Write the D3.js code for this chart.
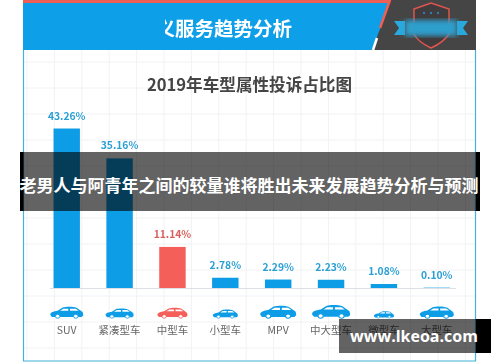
<!DOCTYPE html>
<html>

<head>
    <meta charset="utf-8" />
    <title>2019年车型属性投诉占比图</title>
    <script src="https://d3js.org/d3.v7.min.js"></script>
    <style>
        html,
        body {
            margin: 0;
            padding: 0;
            background-color: white;
            overflow: hidden;
        }

        text {
            font-family: 'Noto Sans CJK SC', 'Noto Sans', sans-serif;
        }
    </style>
</head>

<body>
    <div id="chart"></div>

    <script>
        var categories = ["SUV", "紧凑型车", "中型车", "小型车", "MPV", "中大型车", "微型车", "大型车"];
        var shares = [43.26, 35.16, 11.14, 2.78, 2.29, 2.23, 1.08, 0.10];
        var shareLabels = ["43.26%", "35.16%", "11.14%", "2.78%", "2.29%", "2.23%", "1.08%", "0.10%"];
        var carWidths = [33, 28, 30, 25, 36, 38, 20, 34];

        var chartTitle = "2019年车型属性投诉占比图";
        var headerTitle = "义服务趋势分析";
        var bannerTitle = "老男人与阿青年之间的较量谁将胜出未来发展趋势分析与预测";
        var siteName = "www.lkeoa.com";

        var blue = "#0f9de6", red = "#f55f5a";
        var width = 500, height = 362;

        var svg = d3.select("#chart")
            .append("svg")
            .attr("width", width)
            .attr("height", height)
            .style("display", "block");

        var defs = svg.append("defs");
        defs.append("filter").attr("id", "soft").append("feGaussianBlur").attr("stdDeviation", 0.35);
        defs.append("filter").attr("id", "smear").append("feGaussianBlur").attr("stdDeviation", 2.5);

        // everything under the two grey banners
        var page = svg.append("g").attr("filter", "url(#soft)");

        // faint grid paper
        var grid = page.append("g").attr("stroke", "#f1f2f4").attr("stroke-width", 1);
        d3.range(27, 476, 27.4).forEach(function (x) {
            grid.append("line").attr("x1", x).attr("x2", x).attr("y1", 50).attr("y2", 361);
        });
        d3.range(62, 360, 26).forEach(function (y) {
            grid.append("line").attr("x1", 24).attr("x2", 475).attr("y1", y).attr("y2", y);
        });

        // frame
        page.append("path")
            .attr("d", "M23.5,50V361H475.5V50")
            .attr("fill", "none")
            .attr("stroke", "#45b2d8")
            .attr("stroke-width", 1.2);

        // header strip
        page.append("rect").attr("x", 23).attr("y", 0).attr("width", 453).attr("height", 50).attr("fill", "#0f9fe8");
        page.append("rect").attr("x", 23).attr("y", 0).attr("width", 368).attr("height", 3).attr("fill", "#ee5f55");
        page.append("path").attr("d", "M391,0H476V50H372Z").attr("fill", "#454545");
        page.append("path").attr("d", "M390,0L380,28").attr("stroke", "#ee5f55").attr("stroke-width", 2.5);
        page.append("path").attr("d", "M377,38L373,50").attr("stroke", "#fff").attr("stroke-width", 2.5);

        // badge
        page.append("path")
            .attr("d", "M414,9L431,3L449,9V34Q444,42 431,48Q418,42 414,34Z")
            .attr("fill", "#3f3a3c")
            .attr("stroke", "#e0554f")
            .attr("stroke-width", 1.5);
        page.append("path")
            .attr("d", "M394,21H405V35H394L399,28ZM468,21H457V35H468L463,28Z")
            .attr("fill", "#29a9df");
        page.append("rect")
            .attr("x", 405).attr("y", 20).attr("width", 52).attr("height", 16)
            .attr("fill", "#2f9ecb")
            .attr("filter", "url(#smear)");
        page.selectAll(".star").data([424, 431, 438]).enter()
            .append("circle")
            .attr("cx", function (d) { return d; })
            .attr("cy", 13)
            .attr("r", 1.2)
            .attr("fill", "#2f7fb0");

        page.append("text")
            .attr("x", 292)
            .attr("y", 36)
            .attr("text-anchor", "end")
            .attr("font-size", 19.5)
            .attr("font-weight", 700)
            .attr("fill", "#fff")
            .text(headerTitle);
        // the blurred-out part of the header
        page.append("rect")
            .attr("x", 100).attr("y", 5).attr("width", 65).attr("height", 44)
            .attr("fill", "#0f9fe8");

        page.append("text")
            .attr("x", 249.5)
            .attr("y", 91)
            .attr("text-anchor", "middle")
            .attr("font-size", 16.6)
            .attr("font-weight", 700)
            .attr("fill", "#444")
            .text(chartTitle);

        var x = d3.scaleBand()
            .domain(categories)
            .range([53.5, 450])
            .paddingInner(0.5)
            .paddingOuter(0);

        var y = d3.scaleLinear()
            .domain([0, 43.26])
            .range([288, 128.5]);

        function colorOf(i) {
            return i == 2 ? red : blue;
        }

        page.append("line")
            .attr("x1", 50).attr("x2", 456)
            .attr("y1", 288.5).attr("y2", 288.5)
            .attr("stroke", "#dcdfe3");

        page.selectAll(".bar").data(shares).enter()
            .append("rect")
            .attr("x", function (d, i) { return x(categories[i]); })
            .attr("y", function (d) { return y(d); })
            .attr("width", x.bandwidth())
            .attr("height", function (d) { return y(0) - y(d); })
            .attr("fill", function (d, i) { return colorOf(i); });

        page.selectAll(".value").data(shares).enter()
            .append("text")
            .attr("x", function (d, i) { return x(categories[i]) + x.bandwidth() / 2; })
            .attr("y", function (d) { return y(d) - 9; })
            .attr("text-anchor", "middle")
            .attr("font-size", 10.3)
            .attr("font-weight", 700)
            .attr("fill", function (d, i) { return i == 2 ? "#d8605c" : "#2a9fd4"; })
            .text(function (d, i) { return shareLabels[i]; });

        // car icons, drawn 40 wide and scaled per category
        var carBody = "M0,12C0,8 4,7 9,6L15,1.5C19,0 28,0 32,2L38,7C40,8 40,11 40,13L38,15H2Z";
        var carWindows = "M12,6L16,3.2H22V6ZM24,3.2H31L34.5,6H24Z";
        var cars = page.selectAll(".car").data(categories).enter()
            .append("g")
            .attr("transform", function (d, i) {
                var s = carWidths[i] / 40;
                return "translate(" + (x(d) + x.bandwidth() / 2 - carWidths[i] / 2) + "," + (318 - 14 * s) + ") scale(" + s + "," + (s * 0.85) + ")";
            });
        cars.append("path").attr("d", carBody).attr("fill", function (d, i) { return colorOf(i); });
        cars.append("path").attr("d", carWindows).attr("fill", "#fff");
        [9, 31].forEach(function (wheel) {
            cars.append("circle")
                .attr("cx", wheel).attr("cy", 14).attr("r", 2.8)
                .attr("fill", "#fff")
                .attr("stroke", function (d, i) { return colorOf(i); })
                .attr("stroke-width", 1.2);
        });

        page.selectAll(".category").data(categories).enter()
            .append("text")
            .attr("x", function (d) { return x(d) + x.bandwidth() / 2; })
            .attr("y", 334)
            .attr("text-anchor", "middle")
            .attr("font-size", 10.5)
            .attr("fill", "#666")
            .text(function (d) { return d; });

        // banner across the middle
        svg.append("rect").attr("x", 20).attr("y", 152).attr("width", 460).attr("height", 59).attr("fill", "#000").attr("fill-opacity", 0.61);
        svg.append("rect").attr("x", 20).attr("y", 152).attr("width", 3.5).attr("height", 59).attr("fill", "#000");
        svg.append("rect").attr("x", 476).attr("y", 152).attr("width", 4).attr("height", 59).attr("fill", "#000");
        svg.append("text")
            .attr("x", 249)
            .attr("y", 192)
            .attr("text-anchor", "middle")
            .attr("font-size", 17)
            .attr("font-weight", 700)
            .attr("fill", "#fff")
            .text(bannerTitle);

        // site tag, bottom right
        svg.append("rect").attr("x", 339).attr("y", 319).attr("width", 152).attr("height", 34).attr("fill", "#000").attr("fill-opacity", 0.61);
        svg.append("rect").attr("x", 476).attr("y", 319).attr("width", 15).attr("height", 34).attr("fill", "#000");
        svg.append("text")
            .attr("x", 414)
            .attr("y", 342)
            .attr("text-anchor", "middle")
            .attr("font-size", 16)
            .attr("font-weight", 700)
            .attr("fill", "#fff")
            .style("font-family", "'Open Sans', sans-serif")
            .text(siteName);
    </script>

</body>

</html>
